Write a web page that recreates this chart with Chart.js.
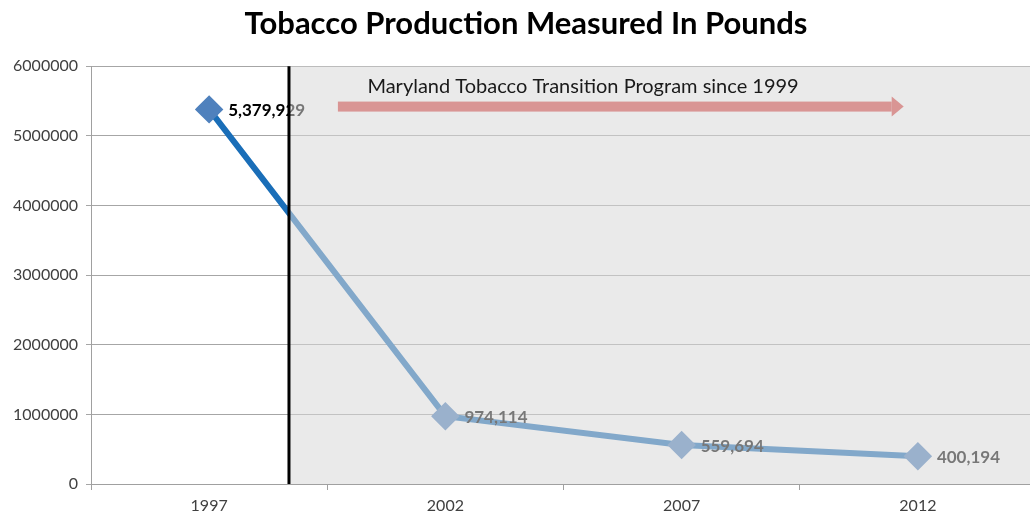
<!DOCTYPE html>
<html>
<head>
<meta charset="utf-8">
<title>Tobacco Production Measured In Pounds</title>
<script src="https://cdn.jsdelivr.net/npm/chart.js@4/dist/chart.umd.min.js"></script>
<style>
  html, body { margin: 0; padding: 0; background: #fff; overflow: hidden; }
  .wrap { width: 1052px; height: 520px; position: relative; }
</style>
</head>
<body>
<div class="wrap"><canvas id="chartTobacco"></canvas></div>
<script>
/* ============================
   Tobacco production (lbs)
   ============================ */

const years = ["1997", "2002", "2007", "2012"];
const pounds = [5379929, 974114, 559694, 400194];
const yTicks = [0, 1000000, 2000000, 3000000, 4000000, 5000000, 6000000];

// program start, as a position on the category axis (between 1997 and 2002)
const programStart = 0.338;
const programLabel = "Maryland Tobacco Transition Program since 1999";

const FONT = "Lato, 'Open Sans', sans-serif";

// labels, shaded program period, marker line and arrow
const programPlugin = {
  id: "program",
  afterDatasetsDraw(chart) {
    const { ctx, chartArea: area, scales } = chart;
    const meta = chart.getDatasetMeta(0);

    // value labels next to each point
    ctx.save();
    ctx.font = "bold 17px " + FONT;
    ctx.fillStyle = "#000";
    ctx.textAlign = "left";
    ctx.textBaseline = "middle";
    meta.data.forEach((pt, i) => {
      ctx.fillText(pounds[i].toLocaleString("en-US"), pt.x + 19, pt.y + 1);
    });
    ctx.restore();

    const xs = scales.x.getPixelForValue(programStart);

    // translucent overlay over the program period
    ctx.save();
    ctx.fillStyle = "rgba(217,217,217,0.55)";
    ctx.fillRect(xs, area.top, area.right - xs, area.bottom - area.top);

    // start marker
    ctx.strokeStyle = "#000";
    ctx.lineWidth = 3;
    ctx.beginPath();
    ctx.moveTo(xs, area.top);
    ctx.lineTo(xs, area.bottom);
    ctx.stroke();

    // arrow
    const ay = scales.y.getPixelForValue(5420000);
    const ax0 = scales.x.getPixelForValue(0.545);
    const ax1 = scales.x.getPixelForValue(2.94);
    ctx.fillStyle = "#d99594";
    ctx.fillRect(ax0, ay - 5, ax1 - 12 - ax0, 10);
    ctx.beginPath();
    ctx.moveTo(ax1 - 12, ay - 10);
    ctx.lineTo(ax1, ay);
    ctx.lineTo(ax1 - 12, ay + 10);
    ctx.closePath();
    ctx.fill();

    // caption
    ctx.font = "20px " + FONT;
    ctx.fillStyle = "#1a1a1a";
    ctx.textBaseline = "alphabetic";
    ctx.fillText(programLabel, scales.x.getPixelForValue(0.67), scales.y.getPixelForValue(5620000));
    ctx.restore();
  }
};

const chart = new Chart(document.getElementById("chartTobacco"), {
  type: "line",
  data: {
    labels: years,
    datasets: [{
      label: "Pounds",
      data: pounds,
      borderColor: "#1a6eb8",
      borderWidth: 6,
      pointStyle: "rectRot",
      pointRadius: 10,
      pointHoverRadius: 10,
      pointBackgroundColor: "#4f81bd",
      pointBorderColor: "#4f81bd",
      tension: 0
    }]
  },
  options: {
    responsive: true,
    maintainAspectRatio: false,
    animation: false,
    layout: { padding: { left: 0, right: 0, top: 0, bottom: 0 } },
    plugins: {
      legend: { display: false },
      tooltip: { enabled: false },
      title: {
        display: true,
        text: "Tobacco Production Measured In Pounds",
        color: "#000",
        font: { family: FONT, size: 31, weight: "bold" },
        padding: { top: 5, bottom: 24 }
      }
    },
    scales: {
      x: {
        offset: true,
        grid: { drawOnChartArea: false, drawTicks: true, tickLength: 6, color: "#a0a0a0", offset: true },
        border: { display: true, color: "#a0a0a0" },
        ticks: { color: "#404040", padding: 6, font: { family: FONT, size: 16 } },
        afterFit(scale) { scale.height = 36; }
      },
      y: {
        min: 0,
        max: 6000000,
        afterBuildTicks(scale) { scale.ticks = yTicks.map(v => ({ value: v })); },
        grid: { color: "#a6a6a6", tickLength: 5 },
        border: { display: true, color: "#a0a0a0" },
        ticks: {
          color: "#404040",
          padding: 8,
          font: { family: FONT, size: 16 },
          callback: v => String(v)
        },
        afterFit(scale) { scale.width = 91; }
      }
    }
  },
  plugins: [programPlugin]
});
</script>
</body>
</html>
